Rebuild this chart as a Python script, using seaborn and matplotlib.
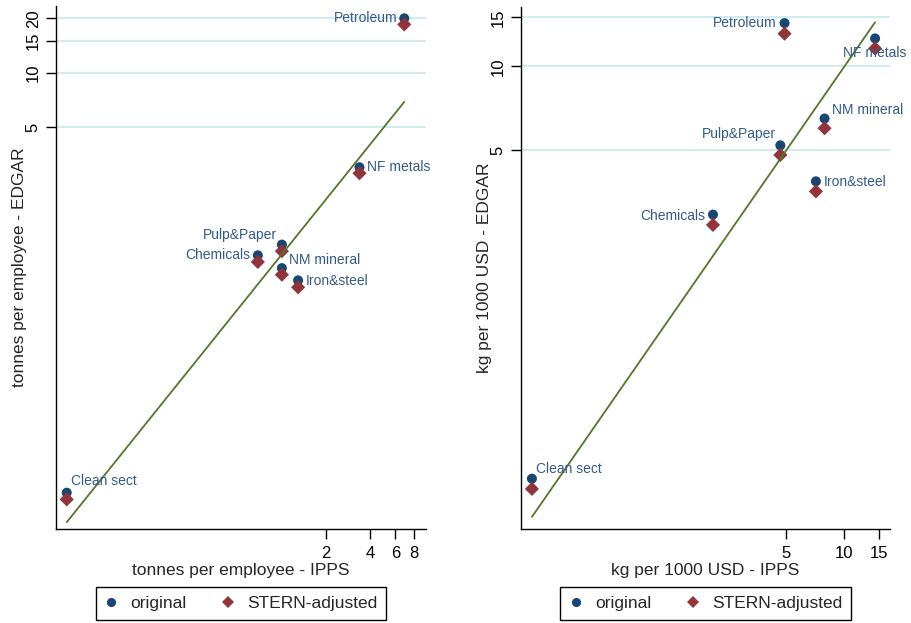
import matplotlib
matplotlib.use("Agg")
import matplotlib.pyplot as plt
from matplotlib.lines import Line2D
import pandas as pd
import seaborn as sns

# Sectors and emission intensities (EDGAR vs IPPS)
sectors = ["Petroleum", "NF metals", "Pulp&Paper", "Chemicals",
           "NM mineral", "Iron&steel", "Clean sect"]

# tonnes per employee
emp_ipps = [6.9, 3.39, 0.99, 0.676, 0.99, 1.28, 0.0326]
emp_edgar_original = [20.0, 3.0, 1.12, 0.977, 0.83, 0.71, 0.0475]
emp_edgar_stern = [18.5, 2.78, 1.03, 0.898, 0.763, 0.65, 0.0436]

# kg per 1000 USD
usd_ipps = [4.9, 14.4, 4.66, 2.09, 7.89, 7.12, 0.242]
usd_edgar_original = [14.3, 12.6, 5.21, 2.94, 6.5, 3.87, 0.332]
usd_edgar_stern = [13.1, 11.6, 4.81, 2.70, 6.0, 3.56, 0.305]

series_names = ["original", "STERN-adjusted"]
emp_xticks = [2, 4, 6, 8]
emp_yticks = [5, 10, 15, 20]
usd_xticks = [5, 10, 15]
usd_yticks = [5, 10, 15]

# ---- styling ----
NAVY = "#1a476f"
MAROON = "#90353b"
GREEN = "#55752f"
GRID = "#cbeaee"
LABEL = "#345a88"

sns.set_style("white")
plt.rcParams["font.family"] = ["Liberation Sans", "DejaVu Sans"]

# label placement (pixel offsets from the marker, horizontal alignment)
emp_label_pos = {
    "Petroleum": (-7, 0, "right"), "NF metals": (8, 0, "left"),
    "Pulp&Paper": (-5, 10, "right"), "Chemicals": (-8, 0, "right"),
    "NM mineral": (7, 8, "left"), "Iron&steel": (8, -1, "left"),
    "Clean sect": (4, 12, "left"),
}
usd_label_pos = {
    "Petroleum": (-8, 0, "right"), "NF metals": (0, -15, "center"),
    "Pulp&Paper": (-4, 11, "right"), "Chemicals": (-8, -1, "right"),
    "NM mineral": (7, 9, "left"), "Iron&steel": (8, -1, "left"),
    "Clean sect": (4, 10, "left"),
}

W, H = 911, 623
fig = plt.figure(figsize=(W / 100, H / 100), dpi=100)
ax1 = fig.add_axes([56 / W, 1 - 529 / H, (426 - 56) / W, (529 - 6) / H])
ax2 = fig.add_axes([521 / W, 1 - 529 / H, (890 - 521) / W, (529 - 6.5) / H])


def panel(ax, x, y_orig, y_stern, xlim, ylim, xticks, yticks,
          xlabel, ylabel, label_pos):
    df = pd.DataFrame({"sector": sectors, "ipps": x,
                       series_names[0]: y_orig, series_names[1]: y_stern})
    long = df.melt(id_vars=["sector", "ipps"], value_vars=series_names,
                   var_name="series", value_name="edgar")
    ax.set_xscale("log")
    ax.set_yscale("log")
    for yt in yticks:
        ax.axhline(yt, color=GRID, lw=1.3, zorder=0)
    sns.scatterplot(data=long, x="ipps", y="edgar", hue="series",
                    style="series", hue_order=series_names,
                    style_order=series_names,
                    palette={series_names[0]: NAVY, series_names[1]: MAROON},
                    markers={series_names[0]: "o", series_names[1]: "D"},
                    s=52, linewidth=0, legend=False, ax=ax, zorder=3)
    # 45-degree reference line across the observed IPPS range
    ref = pd.DataFrame({"v": [min(x), max(x)]})
    sns.lineplot(data=ref, x="v", y="v", color=GREEN, lw=1.3, ax=ax,
                 zorder=4)
    for name, xv, yv in zip(sectors, x, y_orig):
        dx, dy, ha = label_pos[name]
        ax.annotate(name, (xv, yv), xytext=(dx, dy),
                    textcoords="offset pixels", ha=ha, va="center",
                    color=LABEL, fontsize=10, zorder=5,
                    annotation_clip=False)
    ax.set_xlim(*xlim)
    ax.set_ylim(*ylim)
    ax.set_xticks(xticks)
    ax.set_xticklabels([str(t) for t in xticks])
    ax.set_yticks(yticks)
    ax.set_yticklabels([str(t) for t in yticks], rotation=90, va="center")
    ax.minorticks_off()
    ax.tick_params(axis="both", which="major", length=7, width=1,
                   direction="out", labelsize=12, color="black",
                   labelcolor="black", bottom=True, left=True)
    ax.tick_params(axis="x", pad=5)
    ax.tick_params(axis="y", pad=4)
    ax.set_xlabel(xlabel, fontsize=12.5, labelpad=2)
    ax.set_ylabel(ylabel, fontsize=12.5, labelpad=-1)
    for side in ("top", "right"):
        ax.spines[side].set_visible(False)
    for side in ("left", "bottom"):
        ax.spines[side].set_color("black")
        ax.spines[side].set_linewidth(1.0)

    handles = [
        Line2D([], [], marker="o", ls="none", color=NAVY, markersize=6.6,
               markeredgewidth=0),
        Line2D([], [], marker="D", ls="none", color=MAROON, markersize=6.6,
               markeredgewidth=0),
    ]
    pos = ax.get_position()
    cx = (pos.x0 + pos.x1) / 2
    leg = ax.legend(handles, series_names, ncol=2, loc="center",
                    bbox_to_anchor=(cx, 1 - 603.5 / H),
                    bbox_transform=fig.transFigure, fontsize=12.5,
                    frameon=True, fancybox=False, edgecolor="black",
                    framealpha=1, handlelength=0.8, handletextpad=0.7,
                    columnspacing=2.0, borderpad=0.5)
    leg.get_frame().set_linewidth(1.0)


panel(ax1, emp_ipps, emp_edgar_original, emp_edgar_stern,
      (0.0275, 9.74), (0.0299, 23.4), emp_xticks, emp_yticks,
      "tonnes per employee - IPPS", "tonnes per employee - EDGAR",
      emp_label_pos)
panel(ax2, usd_ipps, usd_edgar_original, usd_edgar_stern,
      (0.2125, 17.2), (0.219, 16.4), usd_xticks, usd_yticks,
      "kg per 1000 USD - IPPS", "kg per 1000 USD - EDGAR",
      usd_label_pos)

fig.savefig("out.png", dpi=100)
